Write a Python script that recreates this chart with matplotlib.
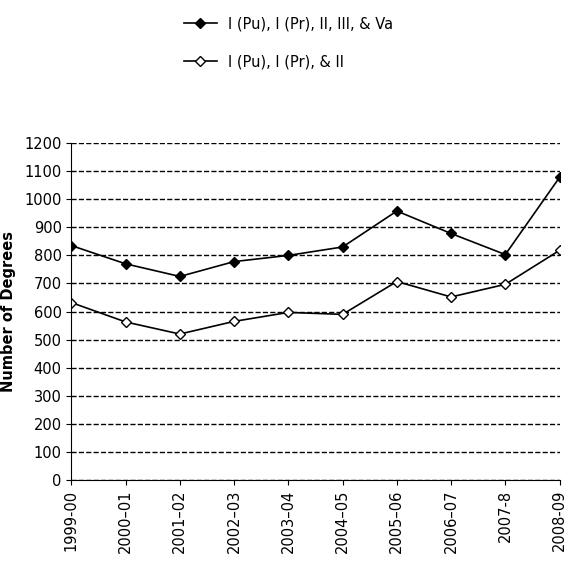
import matplotlib
matplotlib.use("Agg")
import matplotlib.pyplot as plt

years = ["1999-00", "2000–01", "2001–02", "2002–03", "2003–04", "2004–05",
         "2005–06", "2006–07", "2007-8", "2008-09"]
all_levels = [835, 770, 725, 778, 800, 830, 958, 878, 803, 1078]
lower_levels = [632, 563, 520, 565, 597, 590, 707, 652, 697, 818]
yticks = list(range(0, 1201, 100))

fig = plt.figure(figsize=(5.71, 5.84), dpi=100)
ax = fig.add_axes([0.125, 0.178, 0.855, 0.577])
x = list(range(len(years)))
ax.plot(x, all_levels, color="black", lw=1.2, marker="D", ms=5, mfc="black",
        label="I (Pu), I (Pr), II, III, & Va")
ax.plot(x, lower_levels, color="black", lw=1.2, marker="D", ms=5, mfc="white",
        label="I (Pu), I (Pr), & II")
ax.set_xlim(0, len(years) - 1)
ax.set_ylim(0, 1200)
ax.set_yticks(yticks)
ax.set_xticks(x)
ax.set_xticklabels(years, rotation=90, fontsize=10.5)
ax.tick_params(axis="y", labelsize=10.5)
ax.yaxis.grid(True, linestyle="--", color="black", lw=1)
ax.set_axisbelow(True)
for s in ["top", "right"]:
    ax.spines[s].set_visible(False)
ax.set_ylabel("Number of Degrees", fontsize=10.5, fontweight="bold", labelpad=6)
fig.legend(loc="upper left", bbox_to_anchor=(0.30, 0.995), frameon=False,
           fontsize=10.5, handlelength=2.2, labelspacing=1.6)
fig.savefig("out.png", dpi=100)
